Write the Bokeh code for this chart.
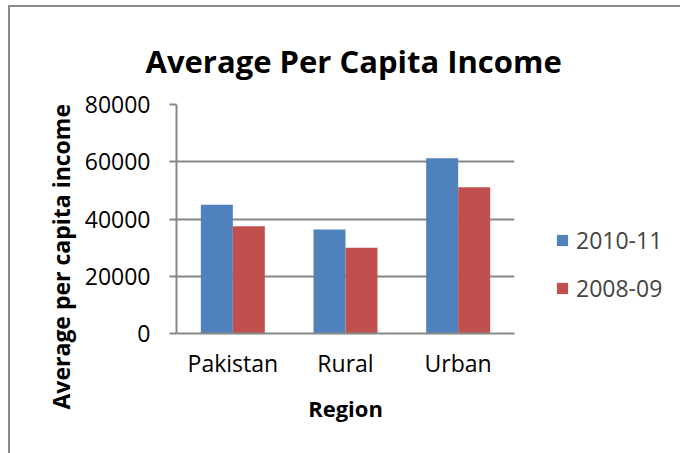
from bokeh.plotting import figure
from bokeh.layouts import row
from bokeh.models import (ColumnDataSource, Legend, LegendItem, NumeralTickFormatter,
                          Title, FactorRange, Range1d)
from bokeh.transform import dodge
from bokeh.embed import file_html
from bokeh.resources import INLINE

regions = ["Pakistan", "Rural", "Urban"]
series_names = ["2010-11", "2008-09"]
income_2010_11 = [45000, 36300, 61200]
income_2008_09 = [37500, 30000, 51100]
y_ticks = [0, 20000, 40000, 60000, 80000]

src = ColumnDataSource(dict(region=regions, a=income_2010_11, b=income_2008_09))

FONT = "Open Sans"
GRID = "#878787"
blue = "#4F81BD"
red = "#C0504D"
TICK_SIZE = "23px"
LABEL_SIZE = "22px"

p = figure(x_range=regions, y_range=(0, 80000), width=600, height=448,
           output_backend="svg", toolbar_location=None,
           min_border_left=166, min_border_right=96, min_border_top=97, min_border_bottom=122)
p.title.text = "Average Per Capita Income"
p.title.align = "left"
p.title.offset = -31
p.title.vertical_align = "top"
p.title.text_font = FONT
p.title.text_font_size = "31px"
p.title.text_font_style = "bold"
p.title.standoff = 42
p.title.text_color = "black"

p.vbar(x=dodge("region", -0.142, range=p.x_range), top="a", width=0.284, source=src,
       fill_color=blue, line_color=None)
p.vbar(x=dodge("region", 0.142, range=p.x_range), top="b", width=0.284, source=src,
       fill_color=red, line_color=None)

p.x_range.range_padding = 0
p.outline_line_color = None
p.xgrid.grid_line_color = None
p.ygrid.grid_line_color = GRID
p.ygrid.grid_line_width = 2
p.yaxis.ticker = y_ticks
p.yaxis.formatter = NumeralTickFormatter(format="0")

for ax in (p.xaxis[0], p.yaxis[0]):
    ax.axis_line_color = GRID
    ax.axis_line_width = 2
    ax.major_label_text_font = FONT
    ax.major_label_text_font_size = TICK_SIZE
    ax.major_label_text_color = "black"
    ax.axis_label_text_font = FONT
    ax.axis_label_text_font_size = LABEL_SIZE
    ax.axis_label_text_font_style = "bold"
    ax.axis_label_text_color = "black"
    ax.minor_tick_line_color = None

p.yaxis.major_tick_line_color = GRID
p.yaxis.major_tick_line_width = 2
p.yaxis.major_tick_out = 7
p.yaxis.major_tick_in = 0
p.yaxis.major_label_standoff = 19

ytitle = Title(text="Average per capita income", align="left", offset=-76,
               text_font=FONT, text_font_size="23px", text_font_style="bold",
               text_color="black", standoff=10)
p.add_layout(ytitle, "left")

p.xaxis.major_tick_line_color = None
p.xaxis.major_label_standoff = 7
p.xaxis.axis_label = "Region"
p.xaxis.axis_label_standoff = 11

p.styles = {"margin-left": "8px", "margin-top": "5px",
            "border-left": "2px solid #8a8a8a", "border-top": "2px solid #8a8a8a"}

# legend panel (overlaps the right margin of the chart; its bars lie outside its view)
q = figure(width=162, height=448, output_backend="svg", toolbar_location=None,
           x_range=FactorRange(*regions), y_range=Range1d(-200000, -100000),
           min_border=0, x_axis_location=None, y_axis_location=None)
q.outline_line_color = None
q.grid.grid_line_color = None
q.background_fill_alpha = 0
q.border_fill_alpha = 0
q.styles = {"margin-left": "-90px", "margin-top": "5px", "border-top": "2px solid #8a8a8a"}
l1 = q.vbar(x=dodge("region", -0.142, range=q.x_range), top="a", width=0.001, source=src,
            fill_color=blue, line_color=None)
l2 = q.vbar(x=dodge("region", 0.142, range=q.x_range), top="b", width=0.001, source=src,
            fill_color=red, line_color=None)

legend = Legend(items=[LegendItem(label=series_names[0], renderers=[l1]),
                       LegendItem(label=series_names[1], renderers=[l2])],
                location=(37, 29), border_line_color=None, background_fill_alpha=0,
                glyph_width=14, glyph_height=14, label_height=26, spacing=16,
                padding=0, margin=0,
                label_text_font=FONT, label_text_font_size=TICK_SIZE, label_standoff=7)
q.add_layout(legend, "center")

layout = row(p, q)
open("out.html", "w").write(file_html(layout, INLINE))
